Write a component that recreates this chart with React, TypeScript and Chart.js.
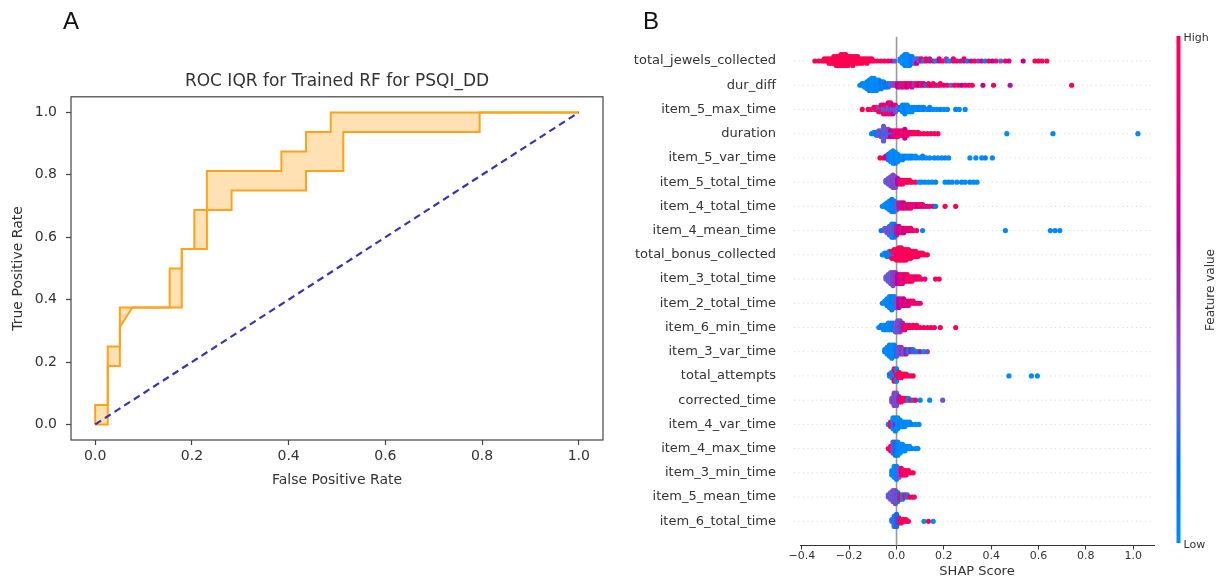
import React, { useEffect, useRef } from 'react';
import { Chart, registerables } from 'chart.js';
Chart.register(...registerables);

const FONT = "'DejaVu Sans', sans-serif";
const TXT = '#333333';

// ---------------- Panel A : ROC IQR ----------------
const rocTicks = [0, 0.2, 0.4, 0.6, 0.8, 1.0];
const upperFpr = [0, 0, 0.026, 0.026, 0.051, 0.051, 0.154, 0.154, 0.179, 0.179, 0.205, 0.205, 0.231, 0.231, 0.385, 0.385, 0.436, 0.436, 0.487, 0.487, 1];
const upperTpr = [0, 0.0625, 0.0625, 0.25, 0.25, 0.375, 0.375, 0.5, 0.5, 0.5625, 0.5625, 0.6875, 0.6875, 0.8125, 0.8125, 0.875, 0.875, 0.9375, 0.9375, 1, 1];
const lowerFpr = [0, 0.026, 0.026, 0.051, 0.051, 0.077, 0.179, 0.179, 0.231, 0.231, 0.282, 0.282, 0.436, 0.436, 0.513, 0.513, 0.795, 0.795, 1];
const lowerTpr = [0, 0, 0.1875, 0.1875, 0.3125, 0.375, 0.375, 0.5625, 0.5625, 0.6875, 0.6875, 0.75, 0.75, 0.8125, 0.8125, 0.9375, 0.9375, 1, 1];
const chanceFpr = [0, 1];
const chanceTpr = [0, 1];

// ---------------- Panel B : SHAP beeswarm ----------------
const features = [
  'total_jewels_collected', 'dur_diff', 'item_5_max_time', 'duration', 'item_5_var_time',
  'item_5_total_time', 'item_4_total_time', 'item_4_mean_time', 'total_bonus_collected', 'item_3_total_time',
  'item_2_total_time', 'item_6_min_time', 'item_3_var_time', 'total_attempts', 'corrected_time',
  'item_4_var_time', 'item_4_max_time', 'item_3_min_time', 'item_5_mean_time', 'item_6_total_time',
];
const shapTicks = [-0.4, -0.2, 0, 0.2, 0.4, 0.6, 0.8, 1.0];
const rowTicks = [0, 1, 2, 3, 4, 5, 6, 7, 8, 9, 10, 11, 12, 13, 14, 15, 16, 17, 18, 19];

// each entry: [shap value, normalised feature value, number of samples]
const totalJewelsCollected = [
  [-0.345, 1, 1], [-0.33, 1, 1], [-0.315, 1, 1], [-0.305, 1, 2], [-0.295, 1, 2], [-0.285, 1, 3], [-0.275, 1, 3],
  [-0.265, 1, 4], [-0.255, 1, 5], [-0.245, 1, 5], [-0.235, 1, 6], [-0.225, 1, 6], [-0.215, 1, 6], [-0.205, 1, 5],
  [-0.195, 1, 4], [-0.185, 1, 5], [-0.175, 1, 4], [-0.165, 1, 4], [-0.155, 1, 3], [-0.145, 1, 3], [-0.135, 1, 2],
  [-0.125, 1, 3], [-0.115, 1, 2], [-0.105, 1, 2], [-0.095, 0.9, 1], [-0.08, 1, 1], [-0.065, 1, 1], [-0.05, 0.8, 1],
  [-0.035, 1, 1], [-0.02, 0.7, 1], [-0.008, 0.35, 1],
  [0.015, 0.0, 2], [0.025, 0.0, 4], [0.035, 0.05, 6], [0.045, 0.0, 6], [0.055, 0.05, 5], [0.065, 0.1, 4], [0.075, 0.3, 3],
  [0.085, 0.0, 2], [0.085, 0.6, 1], [0.095, 0.4, 2], [0.105, 0.8, 2], [0.115, 0.0, 1], [0.125, 0.9, 2], [0.14, 0.5, 2],
  [0.155, 1, 1], [0.165, 0.05, 1], [0.18, 0.7, 2], [0.195, 1, 1], [0.21, 0.4, 2], [0.225, 0.0, 1], [0.24, 0.8, 2],
  [0.255, 1, 1], [0.27, 0.5, 1], [0.285, 0.9, 2], [0.3, 0.1, 1], [0.315, 0.7, 1], [0.33, 1, 1], [0.345, 0.4, 1],
  [0.36, 0.8, 1], [0.375, 0.05, 1], [0.39, 1, 1], [0.405, 0.6, 1], [0.42, 0.9, 1], [0.44, 0.3, 1], [0.46, 1, 1],
  [0.475, 0.7, 1], [0.535, 0.6, 1], [0.585, 1, 1], [0.6, 1, 1], [0.615, 0.9, 1], [0.635, 1, 1],
];
const durDiff = [
  [-0.155, 0.0, 1], [-0.145, 0.05, 2], [-0.135, 0.0, 3], [-0.125, 0.0, 5], [-0.115, 0.05, 7], [-0.105, 0.0, 8], [-0.095, 0.0, 8],
  [-0.085, 0.05, 7], [-0.075, 0.0, 6], [-0.065, 0.1, 5], [-0.055, 0.05, 4], [-0.045, 0.15, 3], [-0.035, 0.1, 3], [-0.025, 0.3, 2],
  [-0.015, 0.35, 2], [-0.005, 0.4, 2], [0.005, 0.6, 3], [0.015, 0.8, 3], [0.025, 0.5, 3], [0.035, 1, 3], [0.045, 0.65, 3],
  [0.055, 1, 2], [0.065, 0.7, 3], [0.075, 0.4, 2], [0.085, 1, 2], [0.095, 0.6, 2], [0.105, 1, 2], [0.115, 0.7, 2],
  [0.125, 0.1, 1], [0.135, 1, 2], [0.145, 0.6, 1], [0.155, 0.9, 2], [0.165, 1, 1], [0.175, 0.5, 1], [0.185, 1, 2],
  [0.2, 0.7, 1], [0.215, 1, 1], [0.23, 0.3, 1], [0.245, 0.8, 1], [0.26, 1, 1], [0.275, 0.6, 1], [0.29, 1, 1],
  [0.305, 0.75, 1], [0.32, 1, 1], [0.365, 0.6, 1], [0.41, 1, 1], [0.48, 0.55, 1], [0.74, 1, 1],
];
const item5MaxTime = [
  [-0.145, 1, 1], [-0.12, 1, 1], [-0.105, 0.9, 1], [-0.095, 0.35, 1], [-0.095, 1, 1], [-0.085, 0.9, 2], [-0.075, 0.35, 2],
  [-0.075, 1, 1], [-0.065, 0.4, 2], [-0.065, 0.9, 2], [-0.055, 0.3, 3], [-0.055, 0.8, 2], [-0.045, 0.35, 3], [-0.045, 1, 2],
  [-0.035, 0.3, 4], [-0.035, 0.7, 2], [-0.025, 0.4, 3], [-0.025, 0.9, 3], [-0.015, 0.3, 3], [-0.015, 0.6, 2], [-0.005, 0.35, 3],
  [-0.005, 0.8, 1], [0.005, 0.3, 2], [0.015, 0.1, 2], [0.025, 0.0, 4], [0.035, 0.05, 5], [0.045, 0.0, 4], [0.055, 0.05, 3],
  [0.065, 0.0, 3], [0.075, 0.05, 2], [0.085, 0.0, 2], [0.095, 0.1, 2], [0.105, 0.0, 2], [0.115, 0.05, 2], [0.13, 0.0, 1],
  [0.14, 0.05, 2], [0.155, 0.0, 1], [0.17, 0.0, 1], [0.185, 0.05, 1], [0.2, 0.0, 1], [0.215, 0.0, 1], [0.25, 0.05, 1],
  [0.265, 0.0, 1], [0.29, 0.0, 1],
];
const duration = [
  [-0.105, 0.1, 1], [-0.095, 0.05, 2], [-0.085, 0.1, 3], [-0.075, 0.0, 2], [-0.075, 0.35, 2], [-0.065, 0.05, 3], [-0.065, 0.4, 2],
  [-0.055, 0.0, 3], [-0.055, 0.3, 3], [-0.045, 0.1, 3], [-0.045, 0.35, 3], [-0.035, 0.05, 3], [-0.035, 0.4, 3], [-0.025, 0.3, 3],
  [-0.025, 0.6, 2], [-0.015, 0.35, 3], [-0.015, 0.7, 2], [-0.005, 0.5, 3], [-0.005, 0.85, 2], [0.005, 0.6, 3], [0.005, 1, 2],
  [0.015, 0.8, 4], [0.025, 0.9, 4], [0.035, 0.65, 3], [0.045, 1, 3], [0.055, 0.8, 2], [0.065, 0.9, 2], [0.075, 1, 2],
  [0.09, 0.85, 2], [0.1, 1, 1], [0.115, 0.9, 1], [0.13, 1, 1], [0.145, 0.85, 1], [0.16, 1, 1], [0.175, 0.9, 1],
  [0.466, 0.0, 1], [0.661, 0.0, 1], [1.02, 0.0, 1],
];
const item5VarTime = [
  [-0.07, 1, 1], [-0.055, 1, 1], [-0.045, 0.6, 2], [-0.035, 0.2, 4], [-0.025, 0.05, 6], [-0.015, 0.0, 8], [-0.005, 0.05, 7],
  [0.005, 0.0, 5], [0.015, 0.05, 3], [0.025, 0.0, 3], [0.035, 0.1, 2], [0.045, 0.0, 2], [0.055, 0.0, 2], [0.065, 0.05, 2],
  [0.08, 0.0, 2], [0.095, 0.0, 1], [0.11, 0.05, 2], [0.125, 0.0, 1], [0.14, 0.0, 1], [0.16, 0.05, 1], [0.175, 0.0, 1],
  [0.19, 0.0, 1], [0.205, 0.05, 1], [0.22, 0.0, 1], [0.31, 0.0, 1], [0.335, 0.0, 1], [0.36, 0.0, 1], [0.375, 0.05, 1], [0.405, 0.0, 1],
];
const item5TotalTime = [
  [-0.045, 0.3, 2], [-0.035, 0.35, 4], [-0.025, 0.3, 6], [-0.015, 0.4, 8], [-0.005, 0.35, 7], [0.005, 0.6, 4], [0.015, 0.85, 3],
  [0.025, 1, 3], [0.035, 0.8, 2], [0.045, 1, 2], [0.055, 1, 2], [0.065, 0.9, 1], [0.08, 1, 1], [0.095, 0.0, 1],
  [0.105, 0.0, 1], [0.12, 0.05, 1], [0.135, 0.0, 1], [0.15, 0.0, 1], [0.165, 0.05, 1], [0.205, 0.0, 1], [0.22, 0.05, 1],
  [0.235, 0.0, 1], [0.255, 0.0, 1], [0.275, 0.05, 1], [0.29, 0.0, 1], [0.31, 0.05, 1], [0.325, 0.0, 1], [0.34, 0.0, 1],
];
const item4TotalTime = [
  [-0.06, 0.05, 1], [-0.05, 0.0, 2], [-0.04, 0.05, 4], [-0.03, 0.0, 6], [-0.02, 0.1, 8], [-0.01, 0.05, 7], [0.0, 0.3, 5],
  [0.01, 0.5, 4], [0.02, 0.8, 4], [0.03, 0.6, 4], [0.04, 1, 3], [0.05, 0.55, 3], [0.06, 1, 3], [0.07, 0.7, 2],
  [0.08, 0.9, 2], [0.09, 0.6, 2], [0.1, 1, 2], [0.11, 0.75, 2], [0.12, 1, 1], [0.13, 0.5, 1], [0.14, 0.9, 1],
  [0.155, 0.7, 1], [0.165, 0.1, 1], [0.205, 1, 1], [0.25, 1, 1],
];
const item4MeanTime = [
  [-0.065, 0.1, 1], [-0.05, 0.3, 2], [-0.04, 0.35, 3], [-0.03, 0.1, 2], [-0.03, 0.35, 3], [-0.02, 0.3, 4], [-0.02, 0.05, 3],
  [-0.01, 0.4, 4], [-0.01, 0.1, 3], [0.0, 0.5, 5], [0.01, 0.7, 4], [0.02, 0.9, 3], [0.03, 0.6, 3], [0.04, 1, 2],
  [0.05, 0.75, 2], [0.06, 1, 2], [0.07, 0.8, 1], [0.085, 0.9, 1], [0.11, 0.0, 1], [0.46, 0.0, 1], [0.65, 0.0, 1],
  [0.67, 0.05, 1], [0.69, 0.0, 1],
];
const totalBonusCollected = [
  [-0.06, 0.05, 1], [-0.05, 0.0, 2], [-0.04, 0.1, 3], [-0.03, 0.05, 4], [-0.02, 0.3, 3], [-0.02, 1, 2], [-0.01, 0.4, 3],
  [-0.01, 1, 3], [0.0, 0.7, 3], [0.0, 1, 4], [0.01, 1, 8], [0.02, 0.9, 8], [0.03, 1, 7], [0.04, 1, 7],
  [0.05, 0.9, 6], [0.06, 1, 5], [0.07, 1, 4], [0.08, 0.9, 4], [0.09, 1, 3], [0.1, 1, 2], [0.11, 0.9, 2],
  [0.12, 1, 1], [0.13, 1, 1],
];
const item3TotalTime = [
  [-0.045, 0.3, 2], [-0.035, 0.35, 4], [-0.025, 0.3, 6], [-0.015, 0.4, 7], [-0.005, 0.45, 6], [0.005, 0.6, 5], [0.015, 0.75, 5],
  [0.025, 0.9, 5], [0.035, 0.7, 4], [0.045, 1, 4], [0.055, 0.8, 3], [0.065, 0.9, 3], [0.075, 1, 2], [0.085, 0.75, 2],
  [0.095, 1, 2], [0.105, 0.9, 1], [0.12, 0.8, 1], [0.165, 1, 1], [0.18, 1, 1],
];
const item2TotalTime = [
  [-0.06, 0.05, 1], [-0.05, 0.0, 2], [-0.04, 0.05, 4], [-0.03, 0.0, 6], [-0.02, 0.1, 7], [-0.01, 0.05, 6], [0.0, 0.35, 5],
  [0.01, 0.6, 5], [0.02, 0.8, 4], [0.03, 0.6, 4], [0.04, 0.9, 3], [0.05, 0.7, 3], [0.06, 0.85, 2], [0.07, 1, 2],
  [0.08, 0.7, 1], [0.09, 0.9, 1], [0.1, 0.8, 1],
];
const item6MinTime = [
  [-0.075, 0.0, 1], [-0.065, 0.05, 2], [-0.055, 0.0, 3], [-0.045, 0.05, 3], [-0.035, 0.0, 4], [-0.025, 0.05, 4], [-0.015, 0.1, 4],
  [-0.005, 0.3, 5], [0.005, 0.35, 6], [0.015, 0.4, 6], [0.025, 0.5, 4], [0.035, 0.8, 3], [0.045, 1, 2], [0.055, 0.85, 2],
  [0.07, 1, 2], [0.085, 0.9, 2], [0.1, 1, 1], [0.115, 1, 1], [0.13, 0.9, 1], [0.145, 1, 1], [0.16, 0.85, 1],
  [0.185, 1, 1], [0.25, 1, 1],
];
const item3VarTime = [
  [-0.05, 0.05, 2], [-0.04, 0.0, 4], [-0.03, 0.05, 6], [-0.02, 0.0, 7], [-0.01, 0.05, 6], [0.0, 0.2, 5], [0.01, 0.35, 4],
  [0.02, 0.45, 4], [0.03, 0.3, 3], [0.04, 0.55, 3], [0.05, 0.05, 2], [0.06, 0.5, 2], [0.07, 0.1, 2], [0.08, 0.4, 1],
  [0.09, 0.05, 1], [0.1, 0.5, 1], [0.115, 0.0, 1], [0.13, 0.4, 1],
];
const totalAttempts = [
  [-0.03, 0.05, 2], [-0.02, 1, 2], [-0.02, 0.0, 2], [-0.01, 0.05, 4], [-0.01, 1, 4], [0.0, 0.9, 4], [0.0, 0.05, 4],
  [0.01, 1, 4], [0.02, 0.9, 3], [0.03, 1, 2], [0.04, 1, 2], [0.05, 0.9, 1], [0.06, 1, 1], [0.07, 1, 1],
  [0.475, 0.0, 1], [0.57, 0.0, 1], [0.595, 0.0, 1],
];
const correctedTime = [
  [-0.02, 0.35, 3], [-0.01, 0.4, 8], [0.0, 0.35, 8], [0.01, 0.5, 4], [0.02, 1, 3], [0.03, 0.8, 2], [0.04, 1, 2],
  [0.05, 0.05, 2], [0.06, 0.9, 1], [0.07, 0.1, 1], [0.08, 1, 1], [0.1, 0.05, 1], [0.14, 0.0, 1], [0.195, 0.35, 1],
];
const item4VarTime = [
  [-0.035, 0.05, 1], [-0.025, 1, 3], [-0.015, 0.2, 3], [-0.015, 0.0, 3], [-0.005, 0.5, 3], [-0.005, 0.05, 4], [0.005, 0.0, 6],
  [0.015, 0.05, 4], [0.025, 0.0, 3], [0.035, 0.05, 3], [0.045, 0.0, 2], [0.055, 0.0, 2], [0.065, 0.05, 1], [0.08, 0.0, 1],
  [0.095, 0.0, 1],
];
const item4MaxTime = [
  [-0.035, 1, 1], [-0.025, 0.9, 3], [-0.015, 0.35, 6], [-0.005, 0.15, 7], [0.005, 0.05, 7], [0.015, 0.0, 5], [0.025, 0.0, 4],
  [0.035, 0.05, 3], [0.045, 0.0, 2], [0.055, 0.0, 2], [0.065, 0.05, 1], [0.08, 0.0, 1], [0.09, 0.0, 1],
];
const item3MinTime = [
  [-0.02, 0.05, 3], [-0.01, 0.0, 6], [0.0, 0.05, 7], [0.01, 0.3, 5], [0.02, 0.8, 4], [0.03, 1, 3], [0.04, 0.9, 3],
  [0.05, 1, 2], [0.06, 0.9, 1], [0.07, 1, 1],
];
const item5MeanTime = [
  [-0.035, 0.35, 2], [-0.025, 0.3, 4], [-0.015, 0.35, 6], [-0.005, 0.4, 7], [0.005, 0.2, 5], [0.015, 1, 3], [0.025, 0.05, 3],
  [0.035, 0.9, 2], [0.045, 0.1, 2], [0.055, 1, 1], [0.065, 1, 1], [0.075, 0.9, 1],
];
const item6TotalTime = [
  [-0.02, 0.05, 2], [-0.01, 0.25, 7], [0.0, 0.15, 8], [0.01, 0.5, 4], [0.02, 1, 3], [0.03, 1, 2], [0.04, 1, 2],
  [0.05, 0.9, 1], [0.116, 0.0, 1], [0.135, 1, 1], [0.155, 0.0, 1],
];
const shapRows = [
  totalJewelsCollected, durDiff, item5MaxTime, duration, item5VarTime, item5TotalTime, item4TotalTime, item4MeanTime,
  totalBonusCollected, item3TotalTime, item2TotalTime, item6MinTime, item3VarTime, totalAttempts, correctedTime,
  item4VarTime, item4MaxTime, item3MinTime, item5MeanTime, item6TotalTime,
];

// ---------------- helpers ----------------
function lab2rgb(L: number, a: number, b: number): string {
  const fy = (L + 16) / 116, fx = fy + a / 500, fz = fy - b / 200;
  const e = 6 / 29;
  const finv = (t: number) => (t > e ? t * t * t : 3 * e * e * (t - 4 / 29));
  const X = 0.95047 * finv(fx), Y = finv(fy), Z = 1.08883 * finv(fz);
  const lin = [
    3.2406 * X - 1.5372 * Y - 0.4986 * Z,
    -0.9689 * X + 1.8758 * Y + 0.0415 * Z,
    0.0557 * X - 0.204 * Y + 1.057 * Z,
  ];
  const c = lin.map((v) => {
    const g = v <= 0.0031308 ? 12.92 * v : 1.055 * Math.pow(v, 1 / 2.4) - 0.055;
    return Math.round(Math.max(0, Math.min(1, g)) * 255);
  });
  return `rgb(${c[0]},${c[1]},${c[2]})`;
}
// SHAP red_blue colour map (Lch interpolation)
function redBlue(t: number): string {
  t = Math.max(0, Math.min(1, t));
  const i = t * 99;
  const L = i <= 49 ? 54 - 14 * (i / 49) : 40 + 14 * Math.min(1, (i - 50) / 49);
  const C = 70 + 20 * t;
  const h = 4.6588 + t * (0.35470565 + 2 * Math.PI - 4.6588);
  return lab2rgb(L, C * Math.cos(h), C * Math.sin(h));
}
// SHAP-style deterministic beeswarm piling
function swarm(rows: number[][]) {
  const vals: number[] = [], fvs: number[] = [];
  for (const [v, f, n] of rows) for (let k = 0; k < n; k++) { vals.push(v); fvs.push(f); }
  const mn = Math.min(...vals), mx = Math.max(...vals);
  const quant = vals.map((v) => Math.round((100 * (v - mn)) / (mx - mn + 1e-8)));
  const inds = vals.map((_, i) => i).sort((a, b) => quant[a] - quant[b] || a - b);
  const ys = new Array(vals.length).fill(0);
  let layer = 0, last = -1;
  for (const ind of inds) {
    if (quant[ind] !== last) layer = 0;
    ys[ind] = Math.ceil(layer / 2) * ((layer % 2) * 2 - 1);
    layer++;
    last = quant[ind];
  }
  const m = Math.max(...ys.map((y) => y + 1));
  const s = 0.9 * (0.4 / m);
  return vals.map((v, i) => ({ x: v, dy: ys[i] * s, f: fvs[i] }));
}
const fmt = (v: number) => (v < 0 ? '\u2212' : '') + Math.abs(v).toFixed(1);
const pts = (xs: number[], ys: number[]) => xs.map((x, i) => ({ x, y: ys[i] }));

const boxPlugin = {
  id: 'box',
  afterDatasetsDraw(chart: any) {
    const { ctx, chartArea: a } = chart;
    ctx.save();
    ctx.strokeStyle = '#444';
    ctx.lineWidth = 1.2;
    ctx.strokeRect(a.left, a.top, a.right - a.left, a.bottom - a.top);
    ctx.restore();
  },
};

const swarmDecor = {
  id: 'swarmDecor',
  beforeDatasetsDraw(chart: any) {
    const { ctx, chartArea: a, scales } = chart;
    ctx.save();
    ctx.strokeStyle = '#cccccc';
    ctx.lineWidth = 0.8;
    ctx.setLineDash([1, 3.5]);
    for (const r of rowTicks) {
      const y = scales.y.getPixelForValue(r);
      ctx.beginPath();
      ctx.moveTo(a.left - 6, y);
      ctx.lineTo(a.right, y);
      ctx.stroke();
    }
    ctx.setLineDash([]);
    const x0 = scales.x.getPixelForValue(0);
    ctx.strokeStyle = '#999999';
    ctx.lineWidth = 1.6;
    ctx.beginPath();
    ctx.moveTo(x0, a.top);
    ctx.lineTo(x0, a.bottom);
    ctx.stroke();
    ctx.restore();
  },
  afterDraw(chart: any) {
    const { ctx } = chart;
    const x = 556.5, top = 36, bot = 543, w = 4;
    const g = ctx.createLinearGradient(0, bot, 0, top);
    for (let k = 0; k <= 20; k++) g.addColorStop(k / 20, redBlue(k / 20));
    ctx.save();
    ctx.fillStyle = g;
    ctx.fillRect(x, top, w, bot - top);
    ctx.fillStyle = TXT;
    ctx.font = `11px ${FONT}`;
    ctx.textBaseline = 'middle';
    ctx.textAlign = 'left';
    ctx.fillText('High', x + w + 3, top + 2);
    ctx.fillText('Low', x + w + 3, bot + 2);
    ctx.translate(591, 290);
    ctx.rotate(-Math.PI / 2);
    ctx.textAlign = 'center';
    ctx.font = `12px ${FONT}`;
    ctx.fillText('Feature value', 0, 0);
    ctx.restore();
  },
};

function RocChart() {
  const ref = useRef<HTMLCanvasElement>(null);
  useEffect(() => {
    const upper = pts(upperFpr, upperTpr);
    const lower = pts(lowerFpr, lowerTpr);
    const band = [...upper, ...lower.slice().reverse()];
    const chart = new Chart(ref.current as HTMLCanvasElement, {
      type: 'line',
      data: {
        datasets: [
          { data: pts(chanceFpr, chanceTpr), borderColor: '#3535b8', borderWidth: 2.2, borderDash: [7, 4.5], pointRadius: 0, fill: false },
          { data: upper, borderColor: '#ffa21a', borderWidth: 2, pointRadius: 0, fill: false, tension: 0 },
          { data: lower, borderColor: '#ffa21a', borderWidth: 2, pointRadius: 0, fill: false, tension: 0 },
          { data: band, borderWidth: 0, borderColor: 'rgba(0,0,0,0)', backgroundColor: 'rgba(255,170,40,0.35)', pointRadius: 0, fill: 'shape', tension: 0 },
        ],
      } as any,
      options: {
        responsive: false,
        animation: false,
        devicePixelRatio: 1,
        events: [],
        layout: { padding: { left: 0, right: 17, top: 0, bottom: 10 } },
        plugins: {
          legend: { display: false },
          tooltip: { enabled: false },
          title: {
            display: true,
            text: 'ROC IQR for Trained RF for PSQI_DD',
            fullSize: false,
            color: TXT,
            font: { family: FONT, size: 17, weight: 'normal' },
            padding: { top: 71.8, bottom: 4.6 },
          },
        },
        scales: {
          x: {
            type: 'linear',
            min: -0.05,
            max: 1.05,
            afterBuildTicks: (s: any) => { s.ticks = rocTicks.map((v) => ({ value: v })); },
            afterFit: (s: any) => { s.height = 50; },
            ticks: { callback: (v: any) => fmt(v), color: TXT, font: { family: FONT, size: 14 }, padding: 3, maxRotation: 0, autoSkip: false },
            grid: { display: true, drawOnChartArea: false, drawTicks: true, tickLength: 5, tickColor: '#444', tickWidth: 1.2 },
            border: { display: false },
            title: { display: true, text: 'False Positive Rate', color: TXT, font: { family: FONT, size: 14 }, padding: { top: 0, bottom: 1.6 } },
          },
          y: {
            type: 'linear',
            min: -0.05,
            max: 1.05,
            afterBuildTicks: (s: any) => { s.ticks = rocTicks.map((v) => ({ value: v })); },
            afterFit: (s: any) => { s.width = 71; },
            ticks: { callback: (v: any) => fmt(v), color: TXT, font: { family: FONT, size: 14 }, padding: 9, autoSkip: false },
            grid: { display: true, drawOnChartArea: false, drawTicks: true, tickLength: 5, tickColor: '#444', tickWidth: 1.2 },
            border: { display: false },
            title: { display: true, text: 'True Positive Rate', color: TXT, font: { family: FONT, size: 14 }, padding: { top: 10, bottom: 0 } },
          },
        },
      } as any,
      plugins: [boxPlugin],
    });
    return () => chart.destroy();
  }, []);
  return <canvas ref={ref} width={620} height={500} style={{ position: 'absolute', left: 0, top: 0, width: 620, height: 500 }} />;
}

function ShapChart() {
  const ref = useRef<HTMLCanvasElement>(null);
  useEffect(() => {
    const datasets = shapRows.map((row, j) => {
      const sw = swarm(row);
      return {
        data: sw.map((p) => ({ x: p.x, y: 19 - j + p.dy })),
        backgroundColor: sw.map((p) => redBlue(p.f)),
        pointRadius: 2.6,
        pointHoverRadius: 2.6,
        borderWidth: 0,
        pointBorderWidth: 0,
      };
    });
    const chart = new Chart(ref.current as HTMLCanvasElement, {
      type: 'scatter',
      data: { datasets } as any,
      options: {
        responsive: false,
        animation: false,
        devicePixelRatio: 1,
        events: [],
        layout: { padding: { left: 0, right: 64, top: 36.8, bottom: 0 } },
        plugins: { legend: { display: false }, tooltip: { enabled: false } },
        scales: {
          x: {
            type: 'linear',
            min: -0.408,
            max: 1.088,
            afterBuildTicks: (s: any) => { s.ticks = shapTicks.map((v) => ({ value: v })); },
            afterFit: (s: any) => { s.height = 33.5; },
            ticks: { callback: (v: any) => fmt(v), color: TXT, font: { family: FONT, size: 11 }, padding: 0, maxRotation: 0, autoSkip: false },
            grid: { display: true, drawOnChartArea: false, drawTicks: true, tickLength: 4, tickColor: '#333', tickWidth: 1 },
            border: { display: true, color: '#333', width: 1 },
            title: { display: true, text: 'SHAP Score', color: TXT, font: { family: FONT, size: 13 }, padding: { top: 0, bottom: 0 } },
          },
          y: {
            type: 'linear',
            min: -1,
            max: 20,
            afterBuildTicks: (s: any) => { s.ticks = rowTicks.map((v) => ({ value: v })); },
            afterFit: (s: any) => { s.width = 180; },
            ticks: { callback: (v: any) => features[19 - v], color: TXT, font: { family: FONT, size: 13 }, padding: 24, autoSkip: false },
            grid: { display: false, drawTicks: false },
            border: { display: false },
          },
        },
      } as any,
      plugins: [swarmDecor],
    });
    return () => chart.destroy();
  }, []);
  return <canvas ref={ref} width={598} height={579} style={{ position: 'absolute', left: 620, top: 0, width: 598, height: 579 }} />;
}

export default function App() {
  const letter: React.CSSProperties = {
    position: 'absolute',
    fontFamily: "'Liberation Sans', Arial, sans-serif",
    fontSize: 24,
    lineHeight: '24px',
    color: '#111',
  };
  return (
    <div style={{ position: 'absolute', left: 0, top: 0, width: 1218, height: 579, background: '#fff', overflow: 'hidden' }}>
      <RocChart />
      <ShapChart />
      <div style={{ ...letter, left: 63, top: 9 }}>A</div>
      <div style={{ ...letter, left: 643, top: 9 }}>B</div>
    </div>
  );
}
